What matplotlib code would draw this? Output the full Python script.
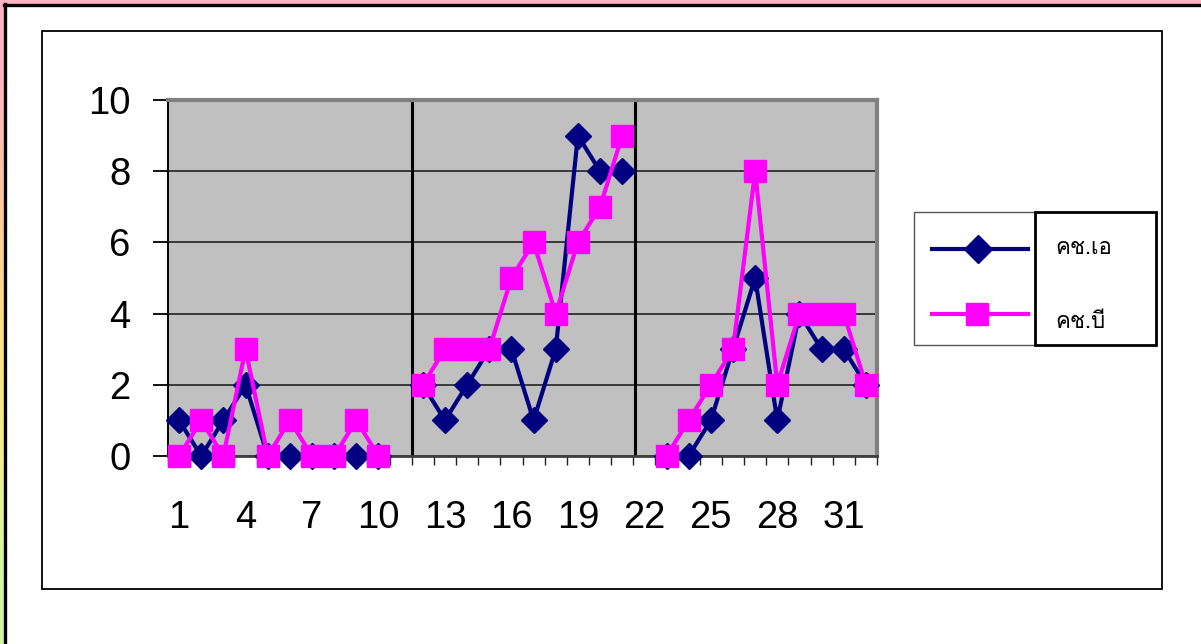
import numpy as np
import matplotlib
matplotlib.use("Agg")
import matplotlib.pyplot as plt
from matplotlib import font_manager
from matplotlib.ft2font import FT2Font
from matplotlib.lines import Line2D
from matplotlib.patches import Rectangle

# data (NaN = no value for that day)
days = list(range(1, 33))
series_a = [1, 0, 1, 2, 0, 0, 0, 0, 0, 0, np.nan,
            2, 1, 2, 3, 3, 1, 3, 9, 8, 8, np.nan,
            0, 0, 1, 3, 5, 1, 4, 3, 3, 2]
series_b = [0, 1, 0, 3, 0, 1, 0, 0, 1, 0, np.nan,
            2, 3, 3, 3, 5, 6, 4, 6, 7, 9, np.nan,
            0, 1, 2, 3, 8, 2, 4, 4, 4, 2]
label_a = "คช.เอ"
label_b = "คช.บี"
xtick_pos = list(range(1, 33, 3))
yticks = [0, 2, 4, 6, 8, 10]
separators = [11.5, 21.6]


def find_thai_font():
    for f in font_manager.fontManager.ttflist:
        try:
            if 0x0E04 in FT2Font(f.fname).get_charmap():
                return f.name
        except Exception:
            pass
    return "DejaVu Sans"


thai_font = find_thai_font()
plt.rcParams["font.family"] = ["Liberation Sans", "DejaVu Sans"]

W, H = 1201, 644
fig = plt.figure(figsize=(W / 100, H / 100), dpi=100)


def fx(x):
    return x / W


def fy(y):
    return 1 - y / H


# outer decoration: pink top band, gradient left band, black lines
fig.add_artist(Rectangle((0, fy(4)), 1, 4 / H, transform=fig.transFigure,
                         facecolor="#FFB4C4", edgecolor="none", zorder=-10))
grad = np.array([[255, 180, 196], [255, 200, 160], [255, 222, 130],
                 [240, 240, 140], [210, 248, 160]]) / 255.0
gax = fig.add_axes([0, 0, 4 / W, fy(4)])
gax.imshow(grad[:, None, :], aspect="auto", interpolation="bilinear")
gax.axis("off")
fig.add_artist(Line2D([fx(4), 1], [fy(5), fy(5)], transform=fig.transFigure,
                      color="black", lw=2.4))
fig.add_artist(Line2D([fx(5), fx(5)], [fy(4), 0], transform=fig.transFigure,
                      color="black", lw=2.4))

# chart area box
fig.add_artist(Rectangle((fx(42), fy(589)), 1120 / W, 558 / H,
                         transform=fig.transFigure, facecolor="white",
                         edgecolor="black", lw=1.3, zorder=-5))

ax = fig.add_axes([fx(168), fy(456), (877 - 168) / W, (456 - 100) / H])
ax.set_facecolor("#C0C0C0")
ax.set_xlim(0.5, 32.5)
ax.set_ylim(0, 10)

ax.yaxis.grid(True, color="#222222", lw=1.2)
ax.set_axisbelow(True)
for s in separators:
    ax.axvline(s, color="black", lw=2.2, zorder=1)

ax.plot(days, series_a, color="#000080", lw=3, marker="D", ms=13.5,
        mec="#000080", clip_on=False, zorder=3)
ax.plot(days, series_b, color="#FF00FF", lw=3, marker="s", ms=15.5,
        mec="#FF00FF", clip_on=False, zorder=4)

ax.set_yticks(yticks)
ax.set_xticks(xtick_pos)
ax.set_xticks(np.arange(0.5, 33, 1), minor=True)
ax.tick_params(axis="y", labelsize=27.5, length=11, width=1.3, pad=16)
ax.tick_params(axis="x", which="major", labelsize=27.5, length=0, pad=32)
ax.tick_params(axis="x", which="minor", length=6.5, width=1.0, color="#222222")

ax.spines["left"].set_color("black")
ax.spines["left"].set_linewidth(1.4)
ax.spines["bottom"].set_color("#404040")
ax.spines["bottom"].set_linewidth(2)
for side in ("top", "right"):
    ax.spines[side].set_color("#808080")
    ax.spines[side].set_linewidth(3)

# legend drawn by hand: sample box + text box
fig.add_artist(Rectangle((fx(914), fy(345)), (1035 - 914) / W, 133 / H,
                         transform=fig.transFigure, facecolor="white",
                         edgecolor="#555555", lw=1.0))
fig.add_artist(Rectangle((fx(1035), fy(345)), (1156 - 1035) / W, 133 / H,
                         transform=fig.transFigure, facecolor="white",
                         edgecolor="black", lw=2))
fig.add_artist(Line2D([fx(932), fx(1028)], [fy(249), fy(249)],
                      transform=fig.transFigure, color="#000080", lw=3))
fig.add_artist(Line2D([fx(978)], [fy(249)], transform=fig.transFigure,
                      color="#000080", marker="D", ms=14.5, ls="none"))
fig.add_artist(Line2D([fx(932), fx(1028)], [fy(314), fy(314)],
                      transform=fig.transFigure, color="#FF00FF", lw=3))
fig.add_artist(Line2D([fx(977)], [fy(314)], transform=fig.transFigure,
                      color="#FF00FF", marker="s", ms=16, ls="none"))
fig.text(fx(1055), fy(248), label_a, fontsize=16, va="center",
         family=[thai_font, "DejaVu Sans"])
fig.text(fx(1055), fy(322), label_b, fontsize=16, va="center",
         family=[thai_font, "DejaVu Sans"])

fig.savefig("out.png", dpi=100)
